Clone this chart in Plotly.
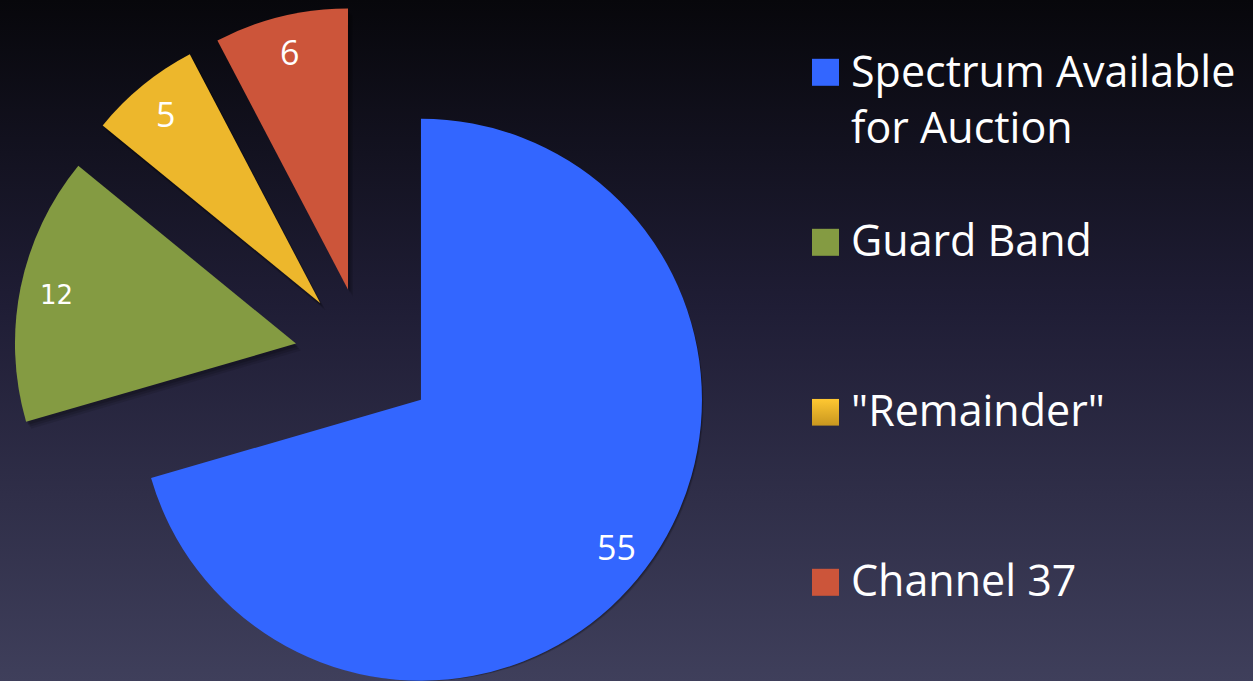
import base64
import numpy as np
import plotly.graph_objects as go

# ---------------- data ----------------
labels = ["Spectrum Available for Auction", "Guard Band", '"Remainder"', "Channel 37"]
legend_labels = ["Spectrum Available<br>for Auction", "Guard Band", '"Remainder"', "Channel 37"]
values = [55, 12, 5, 6]

# ---------------- style ----------------
colors = ["#3366FF", "#849B42", "#EDB72C", "#CC553A"]
W, H = 1253, 681
R = 281                 # pie radius (px)
CX, CY = 364.8, 357.6   # un-exploded pie centre (px from top-left)
PULL = 0.25             # explosion of every slice, fraction of radius
LABEL_FRAC = 0.87       # radial position of value labels
FONT = "Open Sans"

total = float(sum(values))
starts = np.cumsum([0] + values[:-1]) / total * 360.0
mids = starts + np.array(values) / total * 180.0  # bisector angles, clockwise from 12 o'clock


def domain_for(cx, cy, r):
    x0 = max(0.0, (cx - r) / W)
    x1 = min(1.0, (cx + r) / W)
    y0 = max(0.0, 1 - (cy + r) / H)
    y1 = min(1.0, 1 - (cy - r) / H)
    return dict(x=[x0, x1], y=[y0, y1])


def slice_trace(k, color, dx=0.0, dy=0.0):
    th = np.radians(mids[k])
    vx = CX + PULL * R * np.sin(th) + dx
    vy = CY - PULL * R * np.cos(th) + dy
    cols = [color if i == k else "rgba(0,0,0,0)" for i in range(len(values))]
    return go.Pie(
        values=values, labels=labels, sort=False, direction="clockwise", rotation=0,
        marker=dict(colors=cols, line=dict(width=0)),
        textinfo="none", hoverinfo="skip", showlegend=False,
        domain=domain_for(vx, vy, R),
    ), vx, vy


fig = go.Figure()

# soft drop shadows
for k in range(len(values)):
    for (ox, oy, a) in [(5, 7, 0.10), (3.5, 5, 0.13), (2, 3, 0.16)]:
        tr, _, _ = slice_trace(k, f"rgba(0,0,0,{a})", ox, oy)
        fig.add_trace(tr)

annotations = []
vertices = []
for k in range(len(values)):
    tr, vx, vy = slice_trace(k, colors[k])
    fig.add_trace(tr)
    vertices.append((vx, vy))

# value labels
for k, v in enumerate(values):
    th = np.radians(mids[k])
    vx, vy = vertices[k]
    lx = vx + LABEL_FRAC * R * np.sin(th)
    ly = vy - LABEL_FRAC * R * np.cos(th)
    small = (k == 1)
    annotations.append(dict(
        x=lx / W, y=1 - ly / H, xref="paper", yref="paper",
        text=str(v), showarrow=False, xanchor="center", yanchor="middle",
        font=dict(family="DejaVu Sans" if small else FONT, size=26 if small else 34, color="white"),
    ))

# custom legend
LEG_X0 = 812
LEG_SIZE = 27
LEG_TEXT_X = 849
leg_centers = [72.3, 242.3, 412.3, 582.3]
shapes = []
images = []
bg_svg = (
    f'<svg xmlns="http://www.w3.org/2000/svg" width="{W}" height="{H}" preserveAspectRatio="none">'
    '<defs><linearGradient id="g" x1="0" y1="0" x2="0" y2="1">'
    '<stop offset="0" stop-color="#07070b"/><stop offset="0.45" stop-color="#1f1d35"/>'
    '<stop offset="1" stop-color="#3f3f5b"/></linearGradient></defs>'
    '<rect width="100%" height="100%" fill="url(#g)"/></svg>'
)
images.append(dict(
    source="data:image/svg+xml;base64," + base64.b64encode(bg_svg.encode()).decode(),
    xref="paper", yref="paper", x=0, y=1, sizex=1, sizey=1, sizing="stretch",
    xanchor="left", yanchor="top", layer="below",
))
yellow_svg = (
    '<svg xmlns="http://www.w3.org/2000/svg" width="27" height="27" preserveAspectRatio="none">'
    '<defs><linearGradient id="y" x1="0" y1="0" x2="0" y2="1">'
    '<stop offset="0" stop-color="#FFC832"/><stop offset="1" stop-color="#C8961F"/>'
    '</linearGradient></defs><rect width="100%" height="100%" fill="url(#y)"/></svg>'
)

for k, (lab, cyl) in enumerate(zip(legend_labels, leg_centers)):
    if k == 2:
        images.append(dict(
            source="data:image/svg+xml;base64," + base64.b64encode(yellow_svg.encode()).decode(),
            xref="paper", yref="paper", x=LEG_X0 / W, y=1 - (cyl - LEG_SIZE / 2) / H,
            sizex=LEG_SIZE / W, sizey=LEG_SIZE / H, sizing="stretch",
            xanchor="left", yanchor="top", layer="above",
        ))
    else:
        shapes.append(dict(
            type="rect", xref="paper", yref="paper", layer="above",
            x0=LEG_X0 / W, x1=(LEG_X0 + LEG_SIZE) / W,
            y0=1 - (cyl + LEG_SIZE / 2) / H, y1=1 - (cyl - LEG_SIZE / 2) / H,
            fillcolor=colors[k], line=dict(width=0),
        ))
    multi = "<br>" in lab
    annotations.append(dict(
        x=LEG_TEXT_X / W, y=1 - (cyl - 3) / H, xref="paper", yref="paper",
        text=lab, showarrow=False, xanchor="left",
        yanchor="top" if multi else "middle",
        yshift=30 if multi else 0,
        align="left",
        font=dict(family=FONT, size=43, color="white"),
    ))

fig.update_layout(
    width=W, height=H, margin=dict(l=0, r=0, t=0, b=0),
    paper_bgcolor="#1f1d35", plot_bgcolor="rgba(0,0,0,0)",
    showlegend=False, shapes=shapes, annotations=annotations, images=images,
)

fig.write_html("out.html")
